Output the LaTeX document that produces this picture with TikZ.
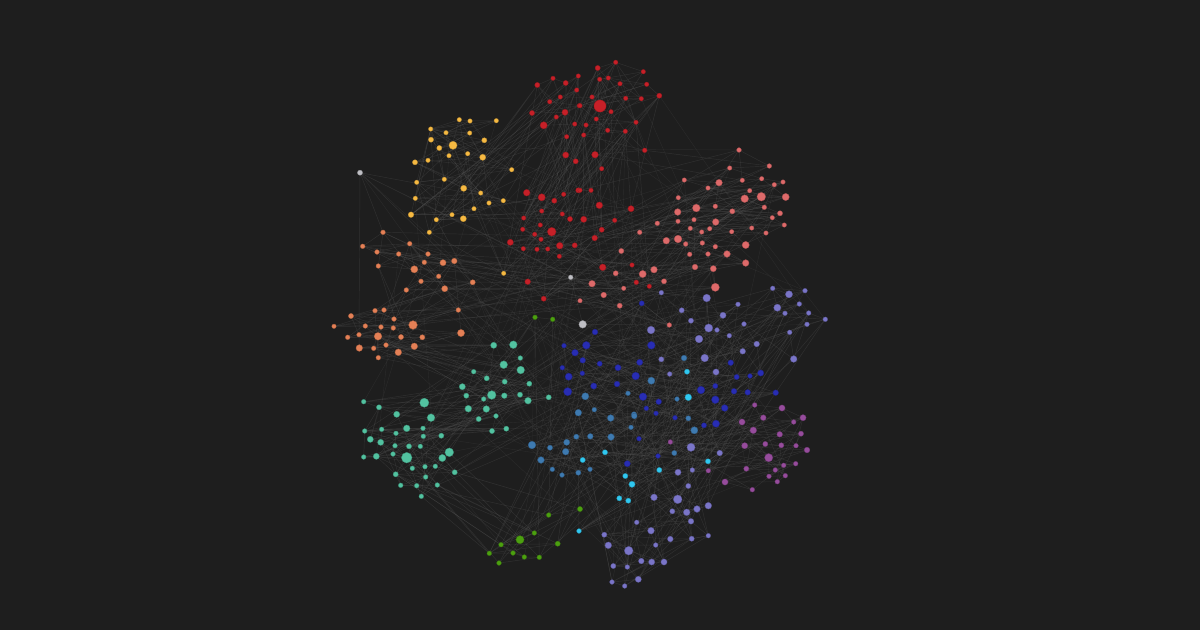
\documentclass[tikz,border=0pt]{standalone}
\usetikzlibrary{backgrounds}
\definecolor{bgc}{RGB}{30,30,30}
\definecolor{cred}{RGB}{198,32,40}
\definecolor{csal}{RGB}{222,106,106}
\definecolor{cyel}{RGB}{246,185,66}
\definecolor{cora}{RGB}{228,128,86}
\definecolor{cteal}{RGB}{82,194,160}
\definecolor{cdblue}{RGB}{40,45,180}
\definecolor{clav}{RGB}{122,117,200}
\definecolor{csteel}{RGB}{62,122,176}
\definecolor{ccyan}{RGB}{48,200,240}
\definecolor{cpurp}{RGB}{150,76,156}
\definecolor{cgreen}{RGB}{76,160,16}
\definecolor{cgray}{RGB}{190,190,195}
\definecolor{edgec}{RGB}{88,88,88}
\pgfdeclarelayer{bglayer}
\pgfdeclarelayer{edgelayer}
\pgfsetlayers{bglayer,edgelayer,main}
\newcount\nc
\newcommand\cluster[2]{\foreach \px/\py/\ps in {#2}{\global\advance\nc by 1\relax\node[dot=#1,minimum size={\ps pt+0.7pt}] (n\the\nc) at (\px,\py) {};}}
\begin{document}
\begin{tikzpicture}[x=1pt,y=-1pt,
  dot/.style={circle,inner sep=0pt,fill=#1,draw=#1!75!black,line width=0.3pt},
  edge/.style={draw=edgec,line width=0.45pt,opacity=0.32},
  longedge/.style={draw=edgec,line width=0.4pt,opacity=0.22}]
\begin{pgfonlayer}{bglayer}
\fill[bgc] (0,0) rectangle (1200,630);
\end{pgfonlayer}
\useasboundingbox (0,0) rectangle (1200,630);
% yellow
\cluster{cyel}{430.7/129/3.8, 459.3/119.7/3.8, 470/121/3.8, 496.3/120.7/3.8, 446/132.7/3.8, 469.7/133/3.8, 431/139.7/4.5, 453/145.3/7.5, 439.3/148/4.5, 484.3/140.3/4.5, 449/155.7/3.8, 467.7/153.7/3.8, 482.7/157.3/5.5, 415/162.3/4.5, 428/160.3/3.8, 511.7/169.7/3.8, 416.7/182.3/3.8, 444.3/179.3/3.8, 463.7/188.3/5.5, 480.7/193/3.8, 415.3/198.3/3.8, 503.3/200.7/3.8, 489/203/3.8, 474/208.7/3.8, 411/214.7/5, 452/214.7/3.8, 436.3/219.7/3.8, 463.3/218.7/5.5, 429.3/232.3/3.8, 503.7/273.3/3.8}
% red
\cluster{cred}{537.3/85/4.5, 553/78.3/3.8, 565.7/83/4.5, 578.3/76/3.8, 576.7/90/3.8, 560.3/97/3.8, 549.7/101.7/3.8, 579.3/105.7/3.8, 532/113/4.5, 565/112.3/5.5, 556.3/117/3.8, 543.7/125.3/6.5, 574.7/124/3.8, 566.7/136.7/3.8, 565.7/155/5.5, 575.7/161.3/4.5, 526.7/192.7/6, 541.7/197.3/6.5, 554.3/200.7/4.5, 563.7/194.3/3.8, 578.3/190.3/4.5, 541.7/211/3.8, 562.3/214/3.8, 570/219/4.5, 523.7/218/3.8, 540.3/225/3.8, 522.7/229.3/3.8, 551.7/231.7/8, 534.7/234.3/3.8,
597.7/68/4.5, 615.7/62.3/3.8, 643.3/71.7/3.8, 599.7/79.3/3.8, 608.3/78/3.8, 620/83.7/3.8, 646.7/84.3/3.8, 659.3/95.7/4.5, 592/97/3.8, 600/106/11.5, 625.7/98.3/3.8, 641.3/98.7/3.8, 580/105.7/3.8, 611/111.7/3.8, 596.3/119/3.8, 636/122.3/3.8, 586/125/3.8, 607.7/130.3/3.8, 625.3/131.3/3.8, 583.7/135/3.8, 644.7/150.3/4, 595/154.7/6, 601.7/168.7/3.8, 580/190.3/3.8, 591/190.3/3.8, 599.3/205.3/6, 631/208.7/5.5, 583.7/219.3/5.5, 614.7/220.3/3.8, 601.7/229.7/4.5,
510.3/242.3/5.5, 523.3/248.7/3.8, 537/249.3/3.8, 547.7/249/3.8, 559.7/245.7/6, 574.7/245.3/4.5, 559.3/256.3/3.8, 541/239.3/3.8, 527.7/281.7/5, 543.7/298.7/4.5, 594.7/238/5, 602.7/267.3/6, 632/265/3.8, 636.3/282.3/4, 649.3/286.3/3.8}
% salmon
\cluster{csal}{739/150/4, 769.3/166/4, 729.7/168/3.8, 684.3/180/3.8, 719/182.7/6, 742.3/180.3/3.8, 761.7/178.7/3.8, 783/182/3.8, 774.3/184.7/3.8, 708/188/3.8, 749.7/190.7/3.8, 761.3/196.7/8, 785.7/197/6.5, 744.7/198.7/7, 678.3/197.7/3.8, 696.3/208/7, 715.3/206.3/4, 764.3/207.3/4, 677.7/212/6, 732.3/211.3/4.5, 780/213.3/4.5, 694/219.7/3.8, 715.7/222/6, 772.3/217.7/3.8, 678/221.3/3.8, 657.3/223.3/4, 784.3/225/3.8, 690.3/228.3/3.8, 709.7/228.7/3.8, 751.7/228/3.8, 639.7/232.3/4, 701.7/232/3.8, 731.7/231.7/3.8, 766/233/3.8,
666.3/240.7/6, 678/239/7, 685.7/244/4, 702.3/243/4, 715.3/246.7/4, 745.7/245/6.5, 621.3/251/4.5, 689.7/254.3/4, 708/254/4, 727/254/6, 745.7/263/6, 654/269.7/6, 642.7/274/6.5, 615.7/273.3/4.5, 664/281.3/4.5, 695/267/5, 713.3/268.7/5.5, 592/283.7/6, 623.7/288.3/3.8, 603.7/295/5, 715.3/287.3/7.5, 619.7/305.7/4.5, 580/300.7/3.8, 669.3/325/4}
% gray
\cluster{cgray}{582.7/324.3/7, 570.7/277.3/4, 360/172.7/4.5}
% orange
\cluster{cora}{383/232.3/4, 362.7/246.3/4, 409.7/243.7/4, 377/252/4, 398.7/254/4, 428/254/4, 378.3/266/4, 414.3/269.3/6.5, 424.3/262.3/4, 443/262.7/5.5, 454.3/261/5, 438.7/276.3/4, 421/281.3/4, 406.3/290/4, 444.7/288.7/5.5, 472.7/282.3/4.5, 458.3/310/4, 375/310.7/4, 384/310/4, 351/316/4.5, 394/319/4, 413/325/8, 334/326.3/3.8, 365.3/326/4, 381/327/4, 393.3/328/4, 359/334.7/4, 378/336.3/7, 401/337/4.5, 422.3/337.3/4.5, 347.7/337.3/4, 461/333/6.5, 386/345/4, 373.7/348.3/4, 359.3/348/6, 414.3/346.3/6, 398.3/352.3/6, 378.3/357.7/4}
% teal
\cluster{cteal}{493.7/345.3/5.5, 513.3/344.7/7, 520.3/358/4, 503.7/364.7/7, 520.7/370/7, 473.7/371.7/4, 486.7/378.3/4.5, 504.7/381.7/4.5, 529.3/383.7/4.5, 462.3/386.7/5.5, 491.7/395/8, 466.3/395.7/4.5, 504.3/395.7/5, 520/394.7/4.5, 483.7/399/4, 528/400.7/6, 548.7/397.3/4.5, 468.3/408.7/6, 486.3/409/6, 424.3/402.7/8.5, 363.7/401.7/4, 379/407.3/4.5, 396.7/414.3/5.5, 431/417.7/7, 478.7/419/4.5, 496/416/4, 492/431/4.5, 506.3/428.7/4.5, 364.7/431/4, 381.7/429.3/4, 406.7/428.3/6, 423/428.3/4, 370.3/439.3/5.5, 380.7/442.3/5.5, 396/433.3/4, 423.3/436.3/4, 441.3/435.7/4.5, 395/445.7/4, 409/446.3/4.5, 420.3/446.3/4, 449.3/452.3/8, 363.7/457/4, 376.3/456.3/5.5, 393/454/4, 406.7/457.7/10, 442.3/458/6.5, 412.3/468.3/4, 425/466.7/4, 435.3/466.3/4, 454.7/472.3/4.5, 395.7/474.3/4.5, 425.7/477/4, 400.7/485.3/4, 416.7/485.7/4, 437.3/485/4, 421.3/496.3/4}
% green
\cluster{cgreen}{535/317.3/4, 552.7/319.3/4, 548.7/515/4, 580/509/4.5, 520/539.7/7.5, 534.3/533/4, 501/544.7/4, 557.7/543.7/4.5, 489.3/553.3/4, 513/553/4, 524.3/557/4, 539.3/557.3/4, 499/563/4}
% dark blue
\cluster{cdblue}{641.7/303.3/4.5, 595/332/5, 586.3/345.3/7, 651.3/345.3/7, 582.7/360.3/5, 599.7/363.7/4.5, 639.7/362.3/5.5, 618/367.7/5.5, 635.7/376/7, 582.3/373.3/4, 593.7/386/5.5, 617/384/5, 643/396.7/7, 658.7/401.7/5, 646.3/408.3/4, 730.7/362.7/5, 701/390/7, 715.3/386/4.5, 736.7/377/4.5, 750/376/4, 760.7/373/5.5, 734/391.3/5, 747.7/392.3/5, 775.7/392.7/5, 715.3/399.7/7, 724.7/408/6, 656/413.3/4, 564/345.7/4, 575/352.7/6, 562.3/367.7/4, 568.7/376.7/6.5, 567.7/391.7/7.5, 675/417.7/4, 704/425.3/4.5, 716/423.7/6.5, 639/438.7/4, 658/456/4, 627.3/463.7/5.5}
% lavender
\cluster{clav}{661.3/292.7/4, 706.7/298/7, 681.7/310.3/4.5, 691/320.7/4.5, 723/315.3/5.5, 738/304.3/4, 708.7/328/7.5, 717/330/4, 699/339/7, 651/330/7, 729.3/335.7/4, 744/324/4, 756.7/344/5, 742.7/351.3/5, 704.7/358/7, 661.3/359.3/4.5, 669.7/374/4, 716/372/5.5, 772.7/288.3/4, 789/294.3/6.5, 805/290.7/4, 777.3/307.7/6.5, 799.3/304/4, 785/313.3/4, 808.7/313/4, 825.3/319.3/4, 807/324.3/4, 789.7/332.3/4, 793.7/359/6,
691/447.3/7.5, 719.7/453/5, 692.3/470/4, 678/472.3/5.5, 688.3/486/4.5, 654/497.3/6, 677.7/499.3/8, 708.3/505.7/6, 697/509/6, 672.3/511.3/4.5, 686.7/512.3/6, 691/521.3/5, 636.7/522.3/4, 651/530.7/6, 604.3/534.7/4.5, 670.3/539/5, 691.7/538.7/4.5, 708.3/535.7/4, 655.7/545/4, 608.3/545.3/6, 628.7/550.7/8, 641.3/561/5, 651.7/562/5.5, 664/562/5.5, 613.3/566/4.5, 627.3/567/4, 638.3/579.3/5.5, 612/582/4, 624.7/586/4}
% steel blue
\cluster{csteel}{684/358/5, 651.3/380.7/6.5, 628/393.3/4, 677/399/4, 585.3/396.3/6.5, 594.3/409.7/4, 634/414.3/4.5, 578.3/412.7/6, 610.7/418/6, 634.3/416/5, 590.3/436.3/5, 611/437/6, 631/427.3/4, 688.3/418.3/4.5, 694.3/430.3/6.5, 674.3/453/4.5, 590/469.3/4, 532/445/7, 550/447.7/4.5, 566.7/442.3/5.5, 576.3/436.7/4.5, 565.7/451.7/6, 541/460/6, 552.3/469.3/4, 562/475/4, 578.3/472.7/4.5}
% cyan
\cluster{ccyan}{687/371.7/4.5, 688.3/397.3/6, 582.7/460/4.5, 605/452.3/4.5, 708/461.3/4.5, 625.3/476/4.5, 632/484.3/5.5, 659.3/470/4.5, 619.3/498.3/4.5, 628.3/500.7/4.5, 579/531/4}
% purple
\cluster{cpurp}{754.7/405/4, 782/408/5.5, 742/422/5.5, 763.3/417.7/5, 793.7/422/4, 803/417.7/5.5, 670.3/442/4, 708.3/470.7/4, 753.3/430.3/6, 779.7/434.3/5, 801/433.7/4.5, 744.7/445.7/5.5, 765.3/444/4.5, 781.3/445.3/4.5, 796/445.7/4, 807/450/5, 768.7/457.7/7.5, 783.7/465.3/4, 795.7/463.7/4, 746.3/468.7/4.5, 775.3/470/4, 769/476.3/4, 785.3/475.7/4, 777.3/481.7/4, 725/482/5.5, 752.3/489.7/4}
\edef\N{\the\nc}
\begin{pgfonlayer}{edgelayer}
\pgfmathsetseed{7}
\foreach \i in {2,...,\N}{
  \pgfmathtruncatemacro\ja{\i-1}
  \pgfmathtruncatemacro\jb{max(1,\i-random(2,12))}
  \pgfmathtruncatemacro\jc{max(1,\i-random(3,30))}
  \draw[edge] (n\i) -- (n\ja) (n\i) -- (n\jb) (n\i) -- (n\jc);
}
\foreach \k in {1,...,170}{
  \pgfmathtruncatemacro\ja{random(1,\N)}
  \pgfmathtruncatemacro\jb{random(1,\N)}
  \draw[longedge] (n\ja) -- (n\jb);
}
\end{pgfonlayer}
\end{tikzpicture}
\end{document}
